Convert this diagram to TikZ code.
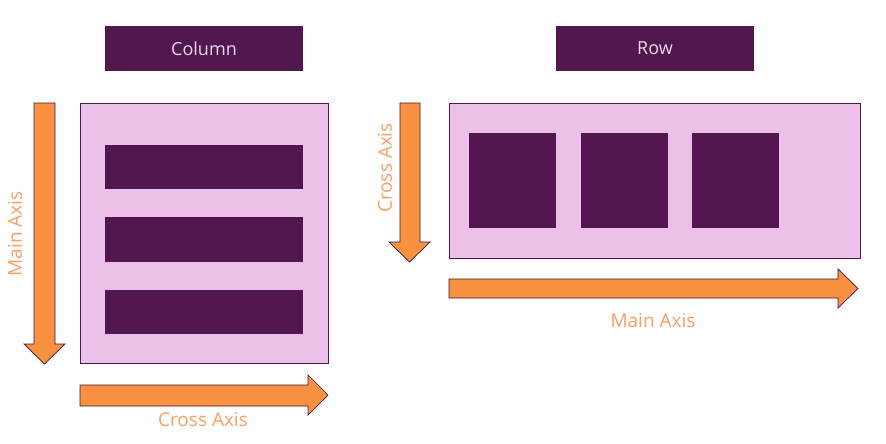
\documentclass[tikz,border=0pt]{standalone}
\usepackage{fontspec}
\setmainfont{Open Sans}
\definecolor{dpurple}{HTML}{52174F}
\definecolor{lpink}{HTML}{EBC1EA}
\definecolor{aorange}{HTML}{F89240}
\definecolor{torange}{HTML}{F9A066}
\definecolor{htext}{HTML}{EDD8EE}
\begin{document}
\begin{tikzpicture}[x=1pt,y=-1pt,
  header/.style={fill=dpurple,draw=none,inner sep=0pt,text=htext,font=\fontsize{18}{20}\selectfont},
  container/.style={fill=lpink,draw=dpurple,line width=0.7pt,inner sep=0pt},
  item/.style={fill=dpurple,draw=none,inner sep=0pt},
  arrowbody/.style={fill=aorange,draw=dpurple!80!black,line width=0.7pt,line join=miter},
  axlabel/.style={text=torange,font=\fontsize{19}{21}\selectfont,inner sep=0pt}]
\useasboundingbox[fill=white] (0,0) rectangle (886,444);
% Column side
\node[header,minimum width=198pt,minimum height=45pt] (colhead) at (204,48.5) {Column};
\node[container,minimum width=248pt,minimum height=260pt] (colbox) at (204,233) {};
\node[item,minimum width=198pt,minimum height=44pt] (c1) at (204,167) {};
\node[item,minimum width=198pt,minimum height=45pt] (c2) at (204,239.5) {};
\node[item,minimum width=198pt,minimum height=44pt] (c3) at (204,312) {};
\draw[arrowbody] (34,103) -- (55,103) -- (55,344) -- (65,344) -- (44.5,364) -- (24,344) -- (34,344) -- cycle;
\node[axlabel,rotate=90] (colmain) at (15,234) {Main Axis};
\draw[arrowbody] (80,385) -- (308,385) -- (308,375) -- (328,395) -- (308,415) -- (308,406) -- (80,406) -- cycle;
\node[axlabel] (colcross) at (203,420) {Cross Axis};
% Row side
\node[header,minimum width=198pt,minimum height=45pt] (rowhead) at (655,48.5) {Row};
\node[container,minimum width=411pt,minimum height=155pt] (rowbox) at (654.5,180.5) {};
\node[item,minimum width=87pt,minimum height=95pt] (r1) at (512.5,180.5) {};
\node[item,minimum width=87pt,minimum height=95pt] (r2) at (624.5,180.5) {};
\node[item,minimum width=87pt,minimum height=95pt] (r3) at (735.5,180.5) {};
\draw[arrowbody] (400,103) -- (420,103) -- (420,242) -- (430,242) -- (409.5,262) -- (389,242) -- (400,242) -- cycle;
\node[axlabel,rotate=90] (rowcross) at (385,168) {Cross Axis};
\draw[arrowbody] (449,279) -- (838,279) -- (838,269) -- (858,288.5) -- (838,308) -- (838,298) -- (449,298) -- cycle;
\node[axlabel] (rowmain) at (653,321) {Main Axis};
\end{tikzpicture}
\end{document}
